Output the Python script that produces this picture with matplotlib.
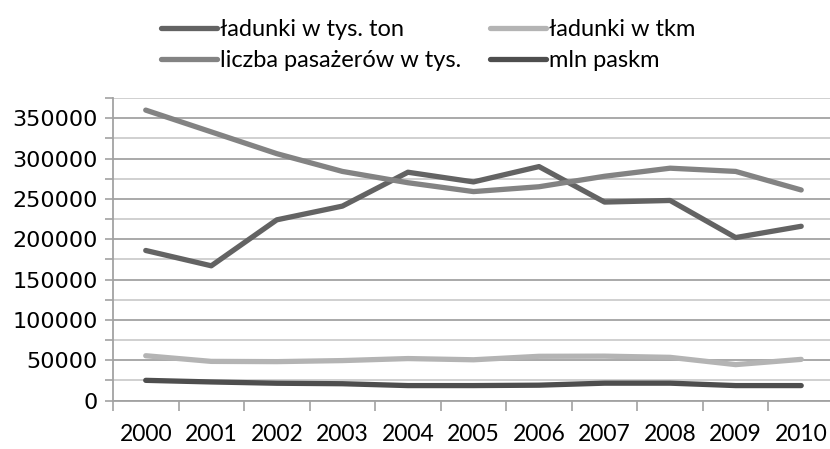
import matplotlib
matplotlib.use("Agg")
import matplotlib.pyplot as plt
from matplotlib.ticker import MultipleLocator

years = ["2000", "2001", "2002", "2003", "2004", "2005", "2006", "2007", "2008", "2009", "2010"]
ladunki_tys_ton = [186000, 167000, 224000, 241000, 283000, 271000, 290000, 246000, 248000, 202000, 216000]
ladunki_tkm = [55500, 48500, 48200, 49500, 52000, 50500, 54800, 55000, 53500, 44500, 51000]
pasazerowie = [360000, 333000, 306000, 284000, 270000, 259000, 265000, 278000, 288000, 284000, 261000]
mln_paskm = [25000, 23000, 21400, 20800, 18500, 18500, 19000, 21500, 21500, 18500, 18500]

labels = ["ładunki w tys. ton", "ładunki w tkm", "liczba pasażerów w tys.", "mln paskm"]
colors = ["#636363", "#b4b4b4", "#838383", "#4e4e4e"]
series = [ladunki_tys_ton, ladunki_tkm, pasazerowie, mln_paskm]

fig = plt.figure(figsize=(8.30, 4.49), dpi=100)
ax = fig.add_axes([0.1361, 0.108, 0.8687, 0.6737])

x = list(range(len(years)))
lines = []
for s, c, l in zip(series, colors, labels):
    ln, = ax.plot(x, s, color=c, lw=3.8, solid_capstyle="round", solid_joinstyle="round", label=l, zorder=3)
    lines.append(ln)

ax.set_xlim(-0.5, len(years) - 0.5)
ax.set_ylim(0, 375000)
ax.yaxis.set_major_locator(MultipleLocator(50000))
ax.yaxis.set_minor_locator(MultipleLocator(25000))
ax.grid(True, which="major", axis="y", color="#a2a2a2", lw=1.3, zorder=1)
ax.grid(True, which="minor", axis="y", color="#cdcdcd", lw=1.3, zorder=1)

ax.set_xticks(x)
ax.set_xticklabels(years, family="Lato", fontsize=16.5)
ax.set_xticks([i - 0.5 for i in range(len(years) + 1)], minor=True)
ax.tick_params(axis="x", which="major", length=0, pad=17)
ax.tick_params(axis="x", which="minor", length=7, width=1.2, color="#a2a2a2", direction="out")
ax.tick_params(axis="y", which="both", length=6, width=1.2, color="#a2a2a2", direction="out", pad=5)
for t in ax.get_yticklabels():
    t.set_family("DejaVu Sans")
    t.set_fontsize(16)

for side in ["top", "right"]:
    ax.spines[side].set_visible(False)
ax.spines["left"].set_color("#a2a2a2")
ax.spines["left"].set_linewidth(1.3)
ax.spines["bottom"].set_color("#a2a2a2")
ax.spines["bottom"].set_linewidth(1.3)

order = [0, 2, 1, 3]
leg = fig.legend([lines[i] for i in order], [labels[i] for i in order],
                 ncol=2, loc="upper left", bbox_to_anchor=(0.168, 1.005),
                 frameon=False, handlelength=2.4, handletextpad=0.12,
                 columnspacing=1.2, labelspacing=0.42,
                 prop={"family": "Lato", "size": 17})

fig.savefig("out.png", dpi=100)
